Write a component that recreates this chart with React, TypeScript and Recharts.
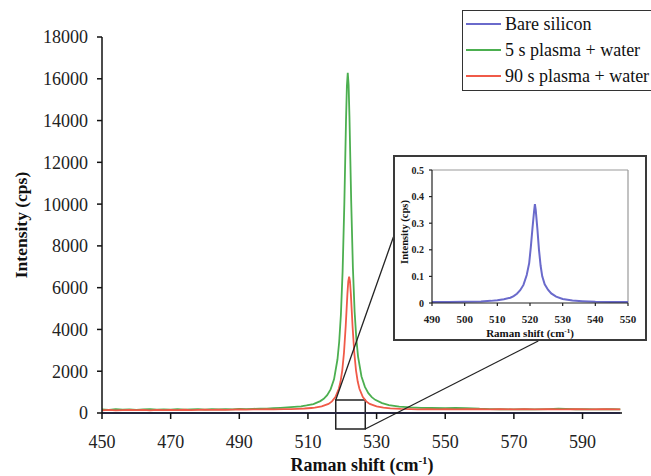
import React from 'react';
import { LineChart, Line, XAxis, YAxis, Legend, ReferenceLine, ReferenceArea, Label } from 'recharts';

const FONT = '"Liberation Serif", "Times New Roman", Times, serif';

const mainXTicks = [450, 470, 490, 510, 530, 550, 570, 590];
const mainYTicks = [0, 2000, 4000, 6000, 8000, 10000, 12000, 14000, 16000, 18000];
const insetXTicks = [490, 500, 510, 520, 530, 540, 550];
const insetYTicks = [0, 0.1, 0.2, 0.3, 0.4, 0.5];

const seriesNames = ['Bare silicon', '5 s plasma + water', '90 s plasma + water'];
const seriesColors = ['#6a6acb', '#4caf50', '#f05a48'];

const bareSilicon: [number, number][] = [
  [450, 0.003], [460, 0.003], [470, 0.003], [480, 0.004], [490, 0.004], [495, 0.004], [500, 0.005],
  [505, 0.006], [508, 0.008], [510, 0.01], [512, 0.014], [514, 0.02], [515, 0.026], [516, 0.035],
  [517, 0.048], [518, 0.068], [519, 0.105], [519.75, 0.15], [520.25, 0.21], [520.75, 0.28],
  [521.25, 0.345], [521.5, 0.372], [521.75, 0.35], [522.25, 0.28], [522.75, 0.2], [523.25, 0.14],
  [523.75, 0.1], [524.5, 0.07], [525.5, 0.05], [526.5, 0.036], [528, 0.024], [530, 0.015],
  [533, 0.009], [536, 0.007], [540, 0.005], [545, 0.004], [550, 0.004], [560, 0.003], [570, 0.003],
  [580, 0.003], [590, 0.003], [601, 0.003],
];

const plasma5s: [number, number][] = [
  [450, 170], [452, 150], [454, 180], [456, 160], [458, 175], [460, 150], [462, 170], [464, 185],
  [466, 160], [468, 175], [470, 165], [472, 180], [474, 155], [476, 175], [478, 185], [480, 165],
  [482, 180], [484, 170], [486, 190], [488, 175], [490, 195], [492, 185], [494, 200], [496, 210],
  [498, 205], [500, 230], [502, 245], [504, 265], [506, 290], [508, 320], [509.6, 360], [511.6, 430],
  [513.6, 570], [514.6, 680], [515.6, 850], [516.6, 1130], [517.6, 1610], [518.6, 2560], [519.1, 3400],
  [519.6, 4700], [520.1, 6780], [520.6, 10000], [520.85, 12020], [521.1, 14060], [521.35, 15660],
  [521.6, 16280], [521.85, 15700], [522.1, 14150], [522.35, 12150], [522.6, 10150], [523.1, 6950],
  [523.6, 4850], [524.1, 3550], [524.6, 2700], [525.6, 1750], [526.6, 1250], [527.6, 950], [528.6, 760],
  [529.6, 630], [531.6, 470], [533.6, 380], [536.6, 310], [540, 270], [543, 250], [546, 240], [550, 235],
  [553, 240], [556, 230], [558, 225], [560, 205], [563, 190], [566, 180], [570, 175], [573, 185],
  [576, 175], [580, 190], [583, 210], [585, 195], [588, 180], [591, 185], [594, 170], [597, 180],
  [599, 190], [601, 170],
];

const plasma90s: [number, number][] = [
  [450, 130], [452, 145], [454, 125], [456, 140], [458, 150], [460, 135], [462, 145], [464, 130],
  [466, 150], [468, 140], [470, 150], [472, 135], [474, 155], [476, 140], [478, 150], [480, 160],
  [482, 145], [484, 160], [486, 150], [488, 165], [490, 170], [492, 160], [494, 175], [496, 170],
  [498, 180], [500, 175], [503, 185], [505, 190], [507, 200], [509, 215], [511, 240], [512, 256],
  [514, 314], [516, 436], [517, 554], [518, 759], [519, 1158], [519.5, 1507], [520, 2043], [520.5, 2885],
  [521, 4154], [521.25, 4932], [521.5, 5703], [521.75, 6297], [522, 6525], [522.25, 6297], [522.5, 5703],
  [522.75, 4932], [523, 4154], [523.5, 2885], [524, 2043], [524.5, 1507], [525, 1158], [526, 759],
  [527, 554], [528, 436], [530, 314], [532, 256], [534, 225], [537, 198], [540, 185], [542, 177],
  [545, 180], [548, 170], [550, 185], [553, 175], [556, 190], [560, 180], [563, 170], [566, 185],
  [570, 175], [573, 180], [576, 170], [580, 185], [584, 175], [588, 180], [592, 170], [596, 185],
  [601, 175],
];

// zoom indicator (data coordinates of the main chart)
const zoomBox = { x1: 518.1, x2: 526.7, y1: -766, y2: 622 };
const leaderLines = [
  [{ x: 518.1, y: 622 }, { x: 534.9, y: 8426 }],
  [{ x: 526.7, y: -766 }, { x: 577.1, y: 3447 }],
];

const toRows = (arr: [number, number][]) => arr.map(([x, y]) => ({ x, y }));
const blueRows = toRows(bareSilicon);
const greenRows = toRows(plasma5s);
const redRows = toRows(plasma90s);
const blueInsetRows = blueRows.filter((d) => d.x >= 490 && d.x <= 550);

const MainXTitle = (props: any) => {
  const vb = props.viewBox || { x: 102, y: 413, width: 520, height: 63 };
  const cx = vb.x + vb.width / 2;
  return (
    <text x={cx} y={vb.y + 58} textAnchor="middle" fontFamily={FONT} fontWeight="bold" fontSize={18} fill="#111">
      <tspan>Raman shift (cm</tspan>
      <tspan dy={-7} fontSize={11}>-1</tspan>
      <tspan dy={7}>)</tspan>
    </text>
  );
};

const MainYTitle = () => {
  const x = 26.5;
  const y = 225;
  return (
    <text x={x} y={y} transform={`rotate(-90, ${x}, ${y})`} textAnchor="middle" fontFamily={FONT} fontWeight="bold" fontSize={17.5} fill="#111">
      Intensity (cps)
    </text>
  );
};

const InsetXTitle = (props: any) => {
  const vb = props.viewBox || { x: 37, y: 146, width: 196, height: 36 };
  const cx = vb.x + vb.width / 2;
  return (
    <text x={cx} y={vb.y + 33.5} textAnchor="middle" fontFamily={FONT} fontWeight="bold" fontSize={11} fill="#111">
      <tspan>Raman shift (cm</tspan>
      <tspan dy={-4} fontSize={7}>-1</tspan>
      <tspan dy={4}>)</tspan>
    </text>
  );
};

const InsetYTitle = () => {
  const x = 13;
  const y = 75;
  return (
    <text x={x} y={y} transform={`rotate(-90, ${x}, ${y})`} textAnchor="middle" fontFamily={FONT} fontWeight="bold" fontSize={10.5} fill="#111">
      Intensity (cps)
    </text>
  );
};

const LegendBox = (props: any) => {
  const payload: any[] = props.payload || [];
  const items = seriesNames.map((n) => payload.find((p) => p.value === n)).filter(Boolean);
  return (
    <div
      style={{
        boxSizing: 'border-box',
        width: 200,
        height: 81,
        border: '1.5px solid #333',
        background: '#fff',
        paddingLeft: 3,
        fontFamily: FONT,
        fontSize: 18,
        color: '#111',
      }}
    >
      {items.map((it: any) => (
        <div key={it.value} style={{ height: 26, display: 'flex', alignItems: 'center', whiteSpace: 'nowrap' }}>
          <svg width={35} height={4} style={{ display: 'block' }}>
            <line x1={0} y1={2} x2={35} y2={2} stroke={it.color} strokeWidth={2} />
          </svg>
          <span style={{ marginLeft: 4 }}>{it.value}</span>
        </div>
      ))}
    </div>
  );
};

export default function App() {
  const axisStroke = { stroke: '#111', strokeWidth: 1.5 };
  return (
    <div
      style={{
        position: 'absolute',
        left: 0,
        top: 0,
        width: 651,
        height: 476,
        overflow: 'hidden',
        background: '#fff',
        fontFamily: FONT,
      }}
    >
      <LineChart width={651} height={476} margin={{ top: 37, right: 29, bottom: 0, left: 0 }} style={{ fontFamily: FONT }}>
        <XAxis
          dataKey="x"
          type="number"
          domain={[450, 601.5]}
          ticks={mainXTicks}
          interval={0}
          height={63}
          tickSize={6}
          tickMargin={16}
          axisLine={axisStroke}
          tickLine={axisStroke}
          tick={{ fill: '#222', fontSize: 18, fontFamily: FONT }}
        >
          <Label content={MainXTitle} />
        </XAxis>
        <YAxis
          type="number"
          domain={[0, 18000]}
          ticks={mainYTicks}
          interval={0}
          width={102}
          tickSize={5}
          tickMargin={9}
          axisLine={axisStroke}
          tickLine={axisStroke}
          tick={{ fill: '#222', fontSize: 18, fontFamily: FONT }}
        >
          <Label content={MainYTitle} />
        </YAxis>
        <Line data={greenRows} dataKey="y" name={seriesNames[1]} stroke={seriesColors[1]} strokeWidth={1.8} dot={false} isAnimationActive={false} />
        <Line data={redRows} dataKey="y" name={seriesNames[2]} stroke={seriesColors[2]} strokeWidth={1.8} dot={false} isAnimationActive={false} />
        <Line data={blueRows} dataKey="y" name={seriesNames[0]} stroke={seriesColors[0]} strokeWidth={1.8} dot={false} isAnimationActive={false} />
        <ReferenceArea x1={zoomBox.x1} x2={zoomBox.x2} y1={zoomBox.y1} y2={zoomBox.y2} fill="none" fillOpacity={0} stroke="#222" strokeWidth={1.5} ifOverflow="visible" />
        {leaderLines.map((seg, i) => (
          <ReferenceLine key={i} segment={seg} stroke="#222" strokeWidth={1.3} ifOverflow="visible" />
        ))}
        <Legend
          layout="vertical"
          align="center"
          verticalAlign="middle"
          content={LegendBox}
          wrapperStyle={{ left: 462, top: 10, width: 200, height: 81 }}
        />
      </LineChart>

      <div
        style={{
          position: 'absolute',
          left: 393,
          top: 155,
          width: 254,
          height: 186,
          boxSizing: 'border-box',
          border: '2px solid #3a3a3a',
          background: '#fff',
        }}
      >
        <LineChart width={250} height={182} margin={{ top: 13, right: 17, bottom: 0, left: 0 }} style={{ fontFamily: FONT }}>
          <XAxis
            dataKey="x"
            type="number"
            domain={[490, 550]}
            ticks={insetXTicks}
            interval={0}
            height={36}
            tickSize={3}
            tickMargin={9}
            axisLine={{ stroke: '#222', strokeWidth: 1.2 }}
            tickLine={{ stroke: '#222', strokeWidth: 1.2 }}
            tick={{ fill: '#222', fontSize: 11, fontWeight: 'bold', fontFamily: FONT }}
          >
            <Label content={InsetXTitle} />
          </XAxis>
          <YAxis
            type="number"
            domain={[0, 0.5]}
            ticks={insetYTicks}
            interval={0}
            width={37}
            tickSize={3}
            tickMargin={5}
            axisLine={{ stroke: '#222', strokeWidth: 1.2 }}
            tickLine={{ stroke: '#222', strokeWidth: 1.2 }}
            tick={{ fill: '#222', fontSize: 10, fontWeight: 'bold', fontFamily: FONT }}
          >
            <Label content={InsetYTitle} />
          </YAxis>
          <ReferenceLine y={0.5} stroke="#999" strokeWidth={1.2} />
          <ReferenceLine x={550} stroke="#999" strokeWidth={1.2} />
          <Line data={blueInsetRows} dataKey="y" name={seriesNames[0]} stroke={seriesColors[0]} strokeWidth={2} dot={false} isAnimationActive={false} />
        </LineChart>
      </div>
    </div>
  );
}
